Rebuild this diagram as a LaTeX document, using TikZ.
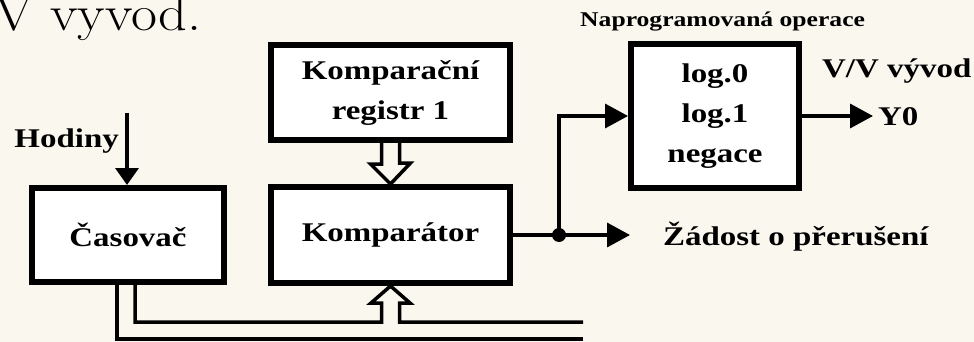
\documentclass[tikz,border=0pt]{standalone}
\usepackage{fontspec}
\setmainfont{Liberation Serif}[FakeStretch=1.22]
\newfontfamily\lmfont{Latin Modern Roman}[FakeStretch=1.13]
\usetikzlibrary{arrows.meta}
\definecolor{bg}{RGB}{250,247,238}
\begin{document}
\begin{tikzpicture}[x=1pt,y=-1pt,
  box/.style={draw, line width=6pt, fill=white, inner sep=0pt, align=center,
    font=\fontsize{27}{40}\selectfont\bfseries},
  wire/.style={line width=3.5pt},
  arr/.style={wire, -{Triangle[length=23pt,width=24pt]}},
  lbl/.style={font=\fontsize{27}{40}\selectfont\bfseries, inner sep=0pt}]
\fill[bg] (0,0) rectangle (974,342);
\useasboundingbox (0,0) rectangle (974,342);
\begin{scope}
\clip (0,0) rectangle (974,342);
\node[font=\lmfont\fontsize{50}{55}\selectfont, anchor=base west, inner sep=0pt] (title) at (-6,31) {V vyvod.};
\end{scope}
% boxes
\node[box, minimum width=192pt, minimum height=94pt] (cas) at (128,235) {Časovač};
\node[box, minimum width=239pt, minimum height=95pt] (reg) at (390.5,92.5) {Komparační\\registr 1};
\node[box, minimum width=239pt, minimum height=96pt] (komp) at (390.5,235) {Komparátor};
\node[box, minimum width=168pt, minimum height=144pt] (prog) at (715,116) {log.0\\log.1\\negace};
% labels
\node[lbl, anchor=base east] (hodl) at (119,147) {Hodiny};
\node[font=\fontsize{21}{24}\selectfont\bfseries, inner sep=0pt, anchor=base west] (napr) at (580,27) {Naprogramovaná operace};
\node[lbl, anchor=base west] (vv) at (822,78) {V/V vývod};
\node[lbl, anchor=base west] (y0) at (878,125) {Y0};
\node[lbl, anchor=base west] (zad) at (663,245) {Žádost o přerušení};
% coordinates
\coordinate (hod) at (127,113);
\coordinate (t1) at (117,0);
\coordinate (t2) at (135,0);
\coordinate (b1) at (583,339);
\coordinate (b2) at (583,322);
\coordinate (j) at (559,235);
\coordinate (zt) at (630,235);
\coordinate (y0t) at (873,116);
% connectors
\draw[wire, -{Triangle[length=17pt,width=23pt]}] (hod) -- (cas.north -| hod);
\draw[wire] (cas.south -| t1) |- (b1);
\draw[wire, line join=miter] (cas.south -| t2) |- (381.5,322) -- (381.5,303) -- (371,303)
  -- (komp.south) -- (410,303) -- (399.5,303) -- (399.5,322) -- (b2);
\draw[wire, line join=miter] ([xshift=-9pt]reg.south) -- ++(0,21) -- ++(-11,0)
  -- (komp.north) -- ++(20,-21) -- ++(-11,0) -- ++(0,-21);
\draw[wire] (komp.east |- j) -- (j);
\fill (j) circle (7pt);
\draw[arr] (j) -- (zt);
\draw[arr] (j) |- (prog.west);
\draw[arr] (prog.east) -- (y0t);
\end{tikzpicture}
\end{document}
